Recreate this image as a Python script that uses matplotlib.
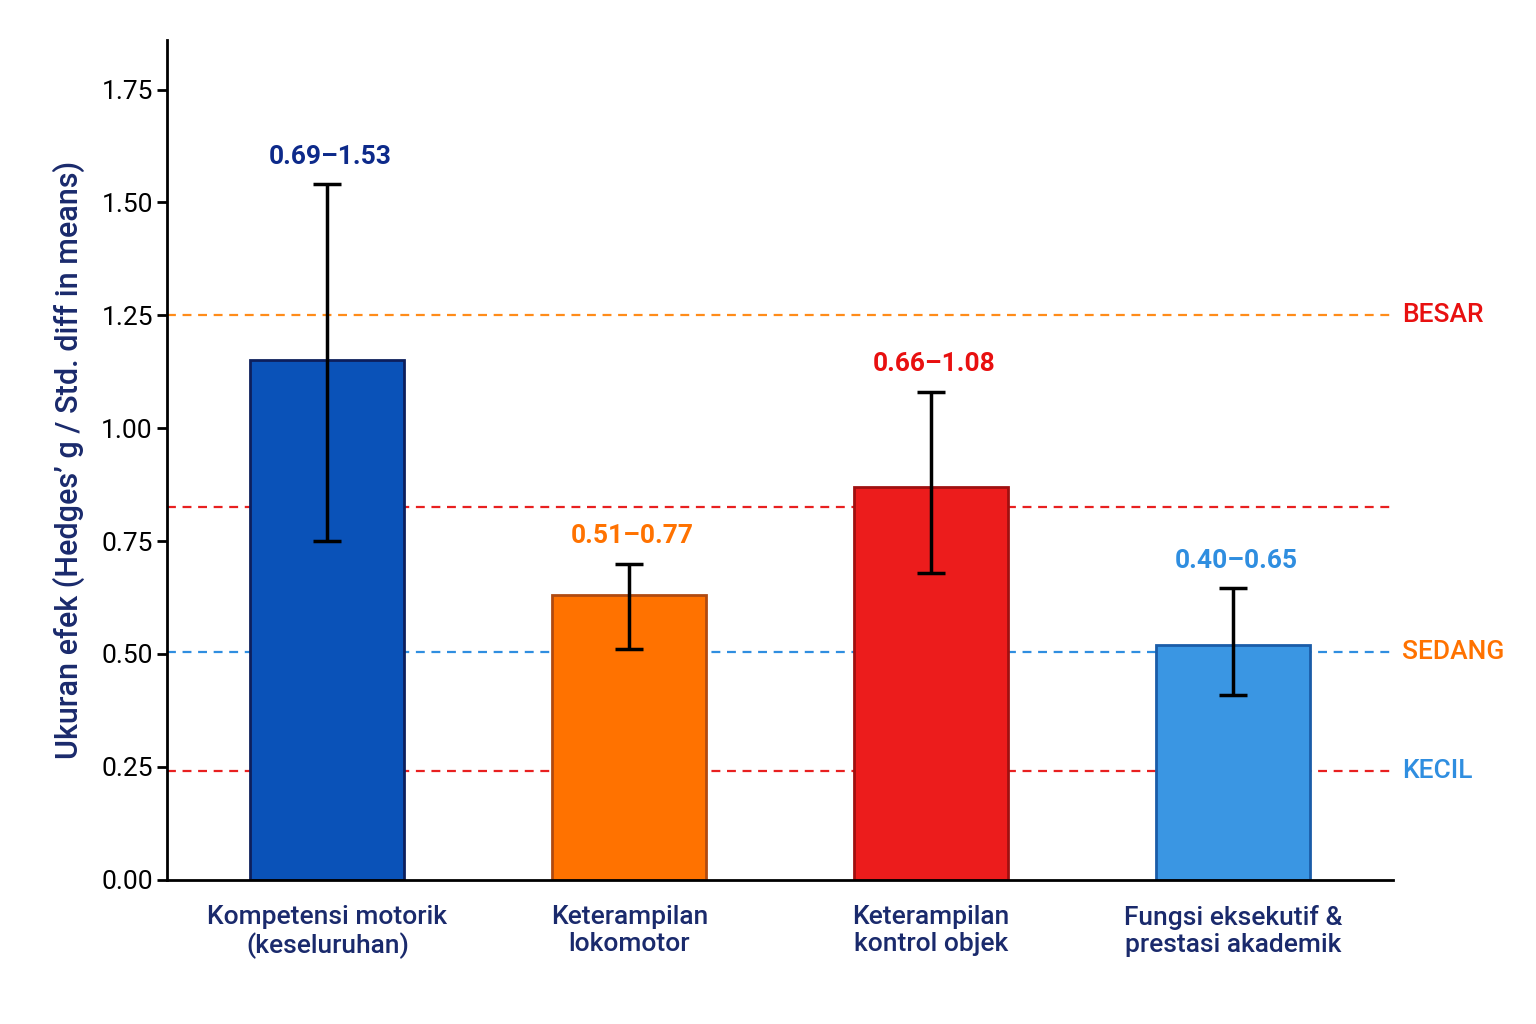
import matplotlib.pyplot as plt

plt.rcParams['font.family'] = ['Roboto', 'DejaVu Sans']

categories = ["Kompetensi motorik\n(keseluruhan)", "Keterampilan\nlokomotor",
              "Keterampilan\nkontrol objek", "Fungsi eksekutif &\nprestasi akademik"]
values = [1.15, 0.63, 0.87, 0.52]
err_lo = [0.75, 0.51, 0.68, 0.41]
err_hi = [1.54, 0.70, 1.08, 0.645]
ci_text = ["0.69\u20131.53", "0.51\u20130.77", "0.66\u20131.08", "0.40\u20130.65"]
colors = ['#0a52b8', '#ff7200', '#ec1c1c', '#3a96e3']
edges = ['#0d1f5c', '#b04a10', '#a01010', '#1a5ca8']
text_colors = ['#0d2a8a', '#ff7200', '#e81010', '#2f8ee0']

fig = plt.figure(figsize=(15.36, 10.24), dpi=100)
ax = fig.add_axes([0.109, 0.141, 0.798, 0.82])

# reference lines
refs = [(1.25, '#ff8c1a', 'BESAR', '#e81010'),
        (0.825, '#e82020', None, None),
        (0.505, '#2f8ee0', 'SEDANG', '#ff7200'),
        (0.24, '#e82020', 'KECIL', '#2f8ee0')]
for y, c, lab, lc in refs:
    ax.axhline(y, color=c, ls=(0, (4, 3)), lw=1.6, zorder=1)
    if lab:
        ax.text(3.56, y, lab, color=lc, fontsize=19, fontweight='medium',
                va='center', ha='left', clip_on=False)

x = range(len(values))
ax.bar(x, values, width=0.51, color=colors, edgecolor=edges, linewidth=2, zorder=2)
for i in x:
    ax.errorbar(i, values[i], yerr=[[values[i] - err_lo[i]], [err_hi[i] - values[i]]],
                color='black', capsize=10, capthick=2.5, elinewidth=2.5, zorder=3)
    ax.text(i + 0.01, err_hi[i] + 0.035, ci_text[i], color=text_colors[i], fontsize=19,
            fontweight='bold', ha='center', va='bottom')

ax.set_xlim(-0.53, 3.53)
ax.set_ylim(0, 1.86)
ax.set_yticks([0, 0.25, 0.5, 0.75, 1.0, 1.25, 1.5, 1.75])
ax.set_yticklabels([f"{v:.2f}" for v in ax.get_yticks()])
ax.set_xticks(list(x))
ax.set_xticklabels(categories, fontsize=19, color='#1a2a6c', fontweight='medium')
ax.tick_params(axis='y', labelsize=19, width=2, length=7)
ax.tick_params(axis='x', length=0, pad=18)
ax.set_ylabel("Ukuran efek (Hedges\u2019 g / Std. diff in means)", fontsize=22,
              color='#1a2a6c', fontweight='medium', labelpad=12)
for s in ['top', 'right']:
    ax.spines[s].set_visible(False)
for s in ['left', 'bottom']:
    ax.spines[s].set_linewidth(2)

fig.savefig("out.png")
